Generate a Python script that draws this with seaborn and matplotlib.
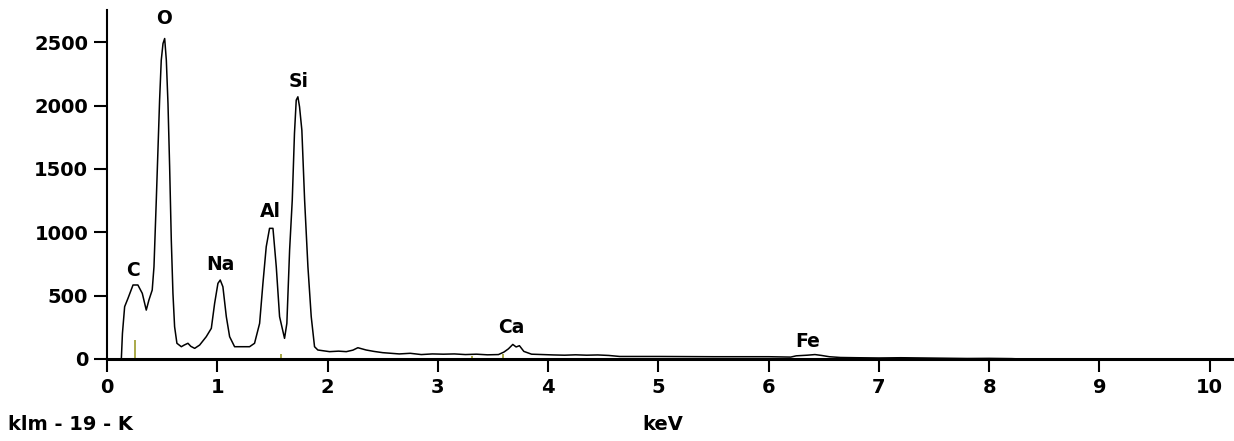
import matplotlib
matplotlib.use("Agg")
import matplotlib.pyplot as plt
import seaborn as sns
import pandas as pd

# spectrum (keV, counts)
energy = [0.0, 0.13, 0.14, 0.16, 0.19, 0.236, 0.28, 0.32, 0.356, 0.38, 0.41, 0.426,
          0.447, 0.462, 0.477, 0.492, 0.508, 0.523, 0.538, 0.553, 0.568, 0.583, 0.598,
          0.613, 0.634, 0.674, 0.70, 0.734, 0.76, 0.795, 0.84, 0.90, 0.946, 0.976,
          1.006, 1.027, 1.051, 1.082, 1.112, 1.157, 1.202, 1.293, 1.338, 1.384, 1.414,
          1.444, 1.474, 1.505, 1.535, 1.565, 1.61, 1.631, 1.656, 1.68, 1.70, 1.716,
          1.731, 1.746, 1.767, 1.792, 1.822, 1.852, 1.882, 1.912, 2.018, 2.10, 2.17,
          2.23, 2.275, 2.35, 2.42, 2.5, 2.65, 2.75, 2.85, 2.95, 3.05, 3.15, 3.25,
          3.35, 3.45, 3.55, 3.60, 3.64, 3.68, 3.71, 3.74, 3.78, 3.85, 3.95, 4.05,
          4.15, 4.25, 4.35, 4.45, 4.55, 4.65, 5.0, 5.5, 6.0, 6.2, 6.25, 6.35, 6.42,
          6.48, 6.55, 6.65, 6.8, 7.0, 7.2, 7.4, 7.6, 7.8, 8.0, 8.2, 8.3, 10.22]
counts = [0, 0, 202, 413, 478, 584, 584, 518, 386, 465, 544, 728,
          1254, 1648, 2043, 2358, 2490, 2529, 2358, 2016, 1517, 939, 518,
          255, 124, 97, 110, 124, 100, 84, 110, 176, 242, 439,
          597, 623, 570, 334, 176, 97, 97, 97, 124, 281, 597,
          886, 1031, 1031, 728, 334, 163, 281, 860, 1254, 1780, 2043,
          2069, 1990, 1806, 1254, 728, 334, 97, 71, 58, 62, 58,
          70, 89, 71, 60, 50, 40, 45, 35, 40, 38, 40, 35,
          38, 33, 35, 55, 80, 115, 95, 105, 60, 38, 35, 32,
          30, 33, 30, 32, 28, 20, 20, 18, 18, 15, 25, 30, 35,
          28, 18, 12, 10, 8, 10, 8, 6, 4, 5, 3, 0, 0]

# element markers (position keV, height counts)
marker_x = [0.25, 1.58, 3.31, 3.59]
marker_h = [150, 40, 25, 40]

elements = ["O", "Si", "Al", "Na", "C", "Ca", "Fe"]
elem_x = [0.52, 1.74, 1.48, 1.03, 0.24, 3.67, 6.35]
elem_y = [2690, 2186, 1160, 742, 702, 245, 142]

xticks = list(range(0, 11))
yticks = [0, 500, 1000, 1500, 2000, 2500]

sns.set_style("ticks")
plt.rcParams["font.family"] = ["DejaVu Sans"]
plt.rcParams["font.weight"] = "bold"
plt.rcParams["text.color"] = "black"
plt.rcParams["xtick.color"] = "black"
plt.rcParams["ytick.color"] = "black"
plt.rcParams["axes.edgecolor"] = "black"

df = pd.DataFrame({"keV": energy, "counts": counts})

fig = plt.figure(figsize=(12.34, 4.41), dpi=100)
ax = fig.add_axes([107 / 1234, 1 - 359 / 441, 1 - 107 / 1234, 349 / 441])

sns.lineplot(data=df, x="keV", y="counts", ax=ax, color="black",
             linewidth=1.1, estimator=None, sort=False)
ax.vlines(marker_x, 0, marker_h, color="#a3a33a", linewidth=1.3)

for lab, x, y in zip(elements, elem_x, elem_y):
    ax.text(x, y, lab, ha="center", va="center", fontsize=13.5,
            fontweight="bold", color="black")

ax.set_xlim(0, 10.22)
ax.set_ylim(0, 2754)
ax.set_xticks(xticks)
ax.set_yticks(yticks)
ax.set_xlabel("")
ax.set_ylabel("")
ax.tick_params(axis="both", length=9.5, width=1.5, labelsize=14, pad=4,
               color="black", labelcolor="black")
for lbl in ax.get_xticklabels() + ax.get_yticklabels():
    lbl.set_fontweight("bold")

sns.despine(ax=ax)
ax.spines["left"].set_linewidth(1.5)
ax.spines["bottom"].set_linewidth(2.2)

fig.text(8 / 1234, 1 - 425 / 441, "klm - 19 - K", ha="left", va="center",
         fontsize=14, fontweight="bold", color="black")
fig.text(663 / 1234, 1 - 425 / 441, "keV", ha="center", va="center",
         fontsize=14, fontweight="bold", color="black")

fig.savefig("out.png", dpi=100)
